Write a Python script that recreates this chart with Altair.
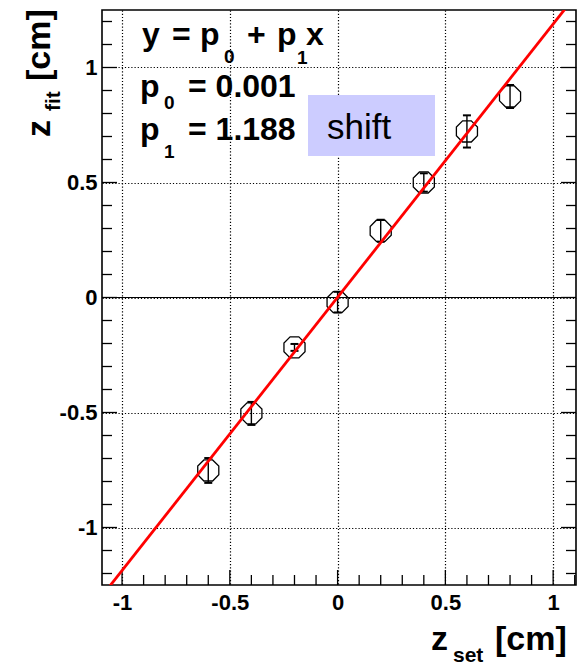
import altair as alt
import pandas as pd

# Measured positions and reconstructed positions (cm)
z_set = [-0.6, -0.4, -0.2, 0.0, 0.2, 0.4, 0.6, 0.8]
z_fit = [-0.752, -0.504, -0.217, -0.02, 0.29, 0.50, 0.722, 0.874]
z_err = [0.054, 0.05, 0.015, 0.045, 0.048, 0.04, 0.07, 0.05]

# Linear fit parameters y = p0 + p1 x
p0 = 0.001
p1 = 1.188

# Axis ranges and tick positions
x_range = [-1.093, 1.106]
y_range = [-1.25, 1.25]
x_major = [-1.0, -0.5, 0.0, 0.5, 1.0]
x_minor = [-0.9, -0.8, -0.7, -0.6, -0.4, -0.3, -0.2, -0.1,
           0.1, 0.2, 0.3, 0.4, 0.6, 0.7, 0.8, 0.9, 1.1]
y_major = [-1.0, -0.5, 0.0, 0.5, 1.0]
y_minor = [-1.2, -1.1, -0.9, -0.8, -0.7, -0.6, -0.4, -0.3, -0.2, -0.1,
           0.1, 0.2, 0.3, 0.4, 0.6, 0.7, 0.8, 0.9, 1.1, 1.2]

W, H = 474, 575
FONT = "Liberation Sans"
MAJ, MIN = 15, 10

pts = pd.DataFrame({"x": z_set, "y": z_fit, "e": z_err})
pts["lo"] = pts["y"] - pts["e"]
pts["hi"] = pts["y"] + pts["e"]

fit = pd.DataFrame({"x": x_range})
fit["y"] = p0 + p1 * fit["x"]

xs = alt.Scale(domain=x_range, nice=False, zero=False)
ys = alt.Scale(domain=y_range, nice=False, zero=False)

# plain hyphen for negative labels
label_expr = "datum.value < 0 ? '-' + format(-datum.value, '~g') : format(datum.value, '~g')"
grid_style = dict(grid=True, gridColor="black", gridDash=[1.2, 2], gridWidth=1.2,
                  gridOpacity=1, ticks=False, domain=False, title=None,
                  labelFont=FONT, labelFontWeight="bold", labelFontSize=22,
                  labelColor="black", labelExpr=label_expr)
x_axis = alt.Axis(values=x_major, labelPadding=7, **grid_style)
y_axis = alt.Axis(values=y_major, labelPadding=5, **grid_style)


def X(field):
    return alt.X(field, type="quantitative", scale=xs, axis=x_axis)


def Y(field):
    return alt.Y(field, type="quantitative", scale=ys, axis=y_axis)


one = pd.DataFrame({"k": [0]})

# Horizontal line at zero
zero_line = alt.Chart(pd.DataFrame({"y": [0.0]})).mark_rule(
    color="black", strokeWidth=1.2).encode(x=alt.value(0), x2=alt.value(W), y=Y("y"))


# Inward-pointing ticks on bottom, left and right edges
def bottom_ticks(vals, L):
    return alt.Chart(pd.DataFrame({"v": vals})).mark_rule(
        color="black", strokeWidth=1.3).encode(x=X("v"), y=alt.value(H), y2=alt.value(H - L))


def side_ticks(vals, L, right=False):
    x0 = W - L if right else 0
    return alt.Chart(pd.DataFrame({"v": vals})).mark_rule(
        color="black", strokeWidth=1.3).encode(y=Y("v"), x=alt.value(x0), x2=alt.value(x0 + L))


ticks = [bottom_ticks(x_major, MAJ), bottom_ticks(x_minor, MIN),
         side_ticks(y_major, MAJ), side_ticks(y_minor, MIN),
         side_ticks(y_major, MAJ, True), side_ticks(y_minor, MIN, True)]

err = alt.Chart(pts).mark_rule(color="black", strokeWidth=1.4).encode(
    x=X("x"), y=Y("lo"), y2="hi")
cap_hi = alt.Chart(pts).mark_rule(color="black", strokeWidth=2, xOffset=-4, x2Offset=4).encode(
    x=X("x"), x2="x", y=Y("hi"))
cap_lo = alt.Chart(pts).mark_rule(color="black", strokeWidth=2, xOffset=-4, x2Offset=4).encode(
    x=X("x"), x2="x", y=Y("lo"))

octagon = ("M0.383,-0.924L0.924,-0.383L0.924,0.383L0.383,0.924"
           "L-0.383,0.924L-0.924,0.383L-0.924,-0.383L-0.383,-0.924Z")
markers = alt.Chart(pts).mark_point(
    shape=octagon, size=520, filled=False, stroke="black", strokeWidth=1.3, opacity=1
).encode(x=X("x"), y=Y("y"))

fit_line = alt.Chart(fit).mark_line(color="#ff0000", strokeWidth=2.8, clip=True).encode(
    x=X("x"), y=Y("y"))


def note(txt, px, py, size, weight="bold", angle=0, align="left"):
    props = dict(font=FONT, fontSize=size, fontWeight=weight, align=align,
                 baseline="alphabetic", color="black")
    if angle:
        props["angle"] = angle
    return alt.Chart(one).mark_text(**props).encode(
        x=alt.value(px), y=alt.value(py), text=alt.value(txt))


shift_box = alt.Chart(one).mark_rect(color="#ccccff", opacity=1).encode(
    x=alt.value(206), x2=alt.value(333), y=alt.value(85), y2=alt.value(146))

FS, SUB = 32, 19
texts = [
    # fit result
    note("y", 40, 35, FS), note("=", 70, 35, FS), note("p", 98, 35, FS),
    note("0", 122, 53, SUB), note("+", 145, 35, FS), note("p", 175, 35, FS),
    note("1", 195, 54, SUB), note("x", 204, 35, FS),
    note("p", 38, 87, FS), note("0", 62, 99, SUB), note("= 0.001", 86, 87, FS),
    note("p", 38, 130, FS), note("1", 62, 148, SUB), note("= 1.188", 86, 130, FS),
    note("shift", 225, 129, 35, weight="normal"),
    # axis titles
    note("z", 329, 640, 34), note("set", 351, 652, 21), note("[cm]", 393, 640, 34),
    note("z", -52, 127, 34, angle=270), note("fit", -42, 101, 21, angle=270),
    note("[cm]", -52, 71, 34, angle=270),
]

chart = alt.layer(
    zero_line, *ticks, err, cap_hi, cap_lo, markers, fit_line, shift_box, *texts
).properties(
    width=W, height=H,
    autosize=alt.AutoSizeParams(type="none"),
    padding={"left": 102, "top": 10, "right": 12, "bottom": 80},
    background="white",
).configure_view(stroke="black", strokeWidth=1.6)

chart.save("out.html", embed_options={"renderer": "svg", "actions": False})
